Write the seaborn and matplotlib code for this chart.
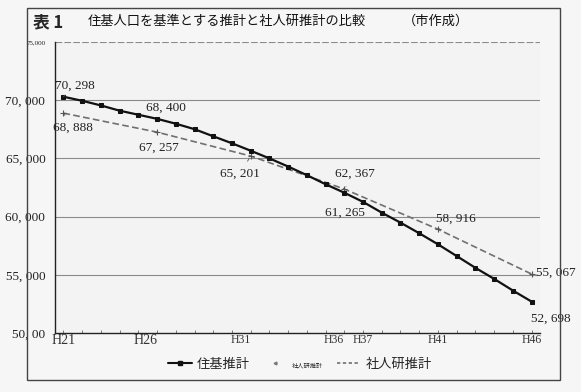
import numpy as np
import pandas as pd
import matplotlib
matplotlib.use('Agg')
import matplotlib.pyplot as plt
from matplotlib.lines import Line2D
from matplotlib.patches import Rectangle
import seaborn as sns

# 住基推計 (every year, Heisei 21..46)
juki_year = list(range(21, 47))
juki_pop = [70298, 69950, 69550, 69100, 68750, 68400, 67980, 67510, 66900, 66300,
            65660, 65000, 64300, 63560, 62780, 62050, 61265, 60340, 59480, 58570,
            57620, 56610, 55600, 54650, 53650, 52698]

# 社人研推計 (every 5 years)
shaji_year = [21, 26, 31, 36, 41, 46]
shaji_pop = [68888, 67257, 65201, 62367, 58916, 55067]

xtick_year = [21, 26, 31, 36, 37, 41, 46]
xtick_labels = ['H21', 'H26', 'H31', 'H36', 'H37', 'H41', 'H46']
xtick_ha = ['center', 'right', 'right', 'right', 'center', 'center', 'center']
ytick_vals = [50000, 55000, 60000, 65000, 70000, 75000]
ytick_labels = ['50, 00', '55, 000', '60, 000', '65, 000', '70, 000', '75,000']

# which points get a value label, and where (offset in pixels)
juki_lab = {21: (11, 11), 26: (9, 11), 37: (-18, -11), 46: (19, -17)}
shaji_lab = {21: (10, -15), 26: (2, -16), 31: (-11, -18), 36: (11, 15), 41: (18, 10), 46: (21, 1)}

sns.set_theme(style='white')
jp = ['Noto Sans CJK JP', 'DejaVu Sans']
num = ['Liberation Serif', 'DejaVu Serif']
plt.rcParams['font.family'] = jp

df_j = pd.DataFrame({'year': juki_year, 'pop': juki_pop})
df_s = pd.DataFrame({'year': shaji_year, 'pop': shaji_pop})

fig = plt.figure(figsize=(5.81, 3.92), dpi=100, facecolor='#f6f6f6')
ax = fig.add_axes([55/581, 1-333/392, 485/581, 291/392])
ax.set_facecolor('#f3f3f3')

sns.lineplot(data=df_s, x='year', y='pop', ax=ax, color='#707070', lw=1.2,
             linestyle=(0, (4, 2)), marker='+', markersize=4, mew=0.8, mec='#555')
sns.lineplot(data=df_j, x='year', y='pop', ax=ax, color='#111111', lw=1.6,
             marker='s', markersize=3.2, mec='#111111')

ax.set_xlim(20.55, 46.45)
ax.set_ylim(50000, 75000)
ax.set_xlabel('')
ax.set_ylabel('')

for v in ytick_vals[1:]:
    ls = (0, (6, 2)) if v == 75000 else '-'
    ax.axhline(v, color='#8a8a8a', lw=0.8, ls=ls, zorder=0)

ax.set_yticks(ytick_vals)
ax.set_yticklabels(ytick_labels, family=num, fontsize=9.5, color='#222')
ax.get_yticklabels()[-1].set_fontsize(5)
ax.tick_params(axis='y', length=0, pad=7)

ax.set_xticks(xtick_year)
ax.set_xticklabels(xtick_labels, family=num, fontsize=8.5, color='#333')
for t, ha in zip(ax.get_xticklabels(), xtick_ha):
    t.set_ha(ha)
for t in ax.get_xticklabels()[:2]:
    t.set_fontsize(10)
ax.set_xticks(juki_year, minor=True)
ax.tick_params(axis='x', which='both', direction='in', length=2.5, width=0.6,
               color='#666', pad=1, bottom=True)

for s in ['top', 'right']:
    ax.spines[s].set_visible(False)
ax.spines['left'].set_color('#222')
ax.spines['bottom'].set_color('#222')
ax.spines['left'].set_linewidth(1.0)
ax.spines['bottom'].set_linewidth(1.0)


def fmt(v):
    return f'{v:,}'.replace(',', ', ')


def put_labels(df, lab, lead):
    for yr, (dx, dy) in lab.items():
        v = int(df.loc[df['year'] == yr, 'pop'].iloc[0])
        ha = 'left' if yr == 46 and dy == 1 else 'center'
        kw = {}
        if lead.get(yr):
            kw['arrowprops'] = dict(arrowstyle='-', lw=0.6, color='#555',
                                    shrinkA=3, shrinkB=2)
        ax.annotate(fmt(v), xy=(yr, v), xytext=(dx if ha == 'center' else 4, dy),
                    textcoords='offset pixels', ha=ha, va='center',
                    family=num, fontsize=9.5, color='#222', **kw)


put_labels(df_j, juki_lab, {21: True, 26: False, 37: True, 46: False})
put_labels(df_s, shaji_lab, {21: True, 26: True, 31: True, 36: True, 41: True, 46: False})

# legend
h1 = Line2D([], [], color='#111', lw=1.5, marker='s', markersize=3)
h2 = Line2D([], [], color='#777', lw=0, marker='<', markersize=2)
h3 = Line2D([], [], color='#707070', lw=1.2, linestyle=(0, (2, 1.5)))
leg = fig.legend([h1, h2, h3], ['住基推計', '社人研推計', '社人研推計'],
                 loc='center', bbox_to_anchor=(300/581, 1-364/392), ncol=3,
                 frameon=False, fontsize=9.5, handlelength=1.8, handletextpad=0.4,
                 columnspacing=1.0)
leg.get_texts()[1].set_fontsize(4.5)

# titles
fig.text(33/581, 1-22/392, '表 1', fontsize=12, fontweight='bold', va='center', family=jp)
fig.text(88/581, 1-21/392, '住基人口を基準とする推計と社人研推計の比較', fontsize=9.5,
         va='center', family=jp, color='#111')
fig.text(403/581, 1-21/392, '（市作成）', fontsize=9.5, va='center', family=jp, color='#111')

# outer frame
fig.patches.append(Rectangle((27/581, 1-380/392), 533/581, 372/392, transform=fig.transFigure,
                             fill=False, ec='#444', lw=1.0))

fig.savefig('out.png', dpi=100, facecolor=fig.get_facecolor())
